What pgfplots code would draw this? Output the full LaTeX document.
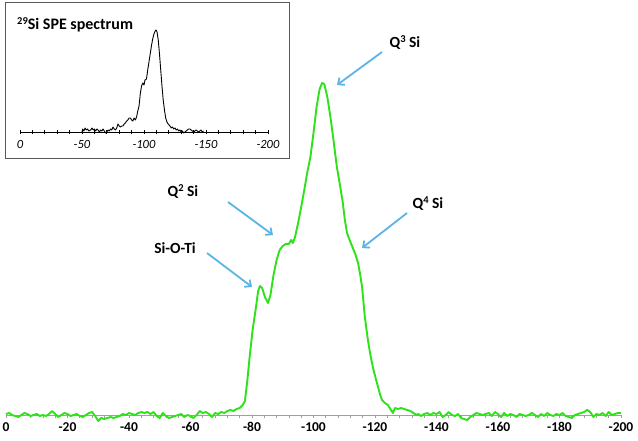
\documentclass[border=0pt]{standalone}
\usepackage{pgfplots}
\pgfplotsset{compat=1.18}
\usepackage{fontspec}
\setmainfont{Carlito}
\usetikzlibrary{arrows.meta}
\definecolor{specgreen}{RGB}{46,226,26}
\definecolor{arrowblue}{RGB}{90,180,230}
\definecolor{axgray}{RGB}{160,160,160}
\newcommand{\sups}[1]{\raisebox{0.32em}{\fontsize{10.5}{10.5}\selectfont #1}}
\begin{document}
\begin{tikzpicture}[x=1pt,y=1pt]
\path[use as bounding box] (0,0) rectangle (638,440);
% main spectrum
\begin{axis}[at={(6pt,10pt)}, anchor=south west, scale only axis,
  width=615pt, height=355pt,
  xmin=-200, xmax=0, x dir=reverse, ymin=-15, ymax=340,
  axis x line=middle, axis y line=none,
  x axis line style={-, axgray, line width=0.8pt},
  hide obscured x ticks=false,
  xtick={0,-20,-40,-60,-80,-100,-120,-140,-160,-180,-200},
  xticklabels={0,-20,-40,-60,-80,-100,-120,-140,-160,-180,-200},
  minor x tick num=4,
  tick align=outside, major tick length=3pt, minor tick length=3pt,
  every tick/.style={axgray, line width=0.6pt},
  xticklabel style={font=\bfseries\fontsize{13.5}{13.5}\selectfont, text=black, yshift=-1pt},
  clip=false]
\addplot[specgreen, line width=1.9pt, line join=round] coordinates {
(0,1)(-1,2)(-2,0)(-3,-1)(-4,-2)(-5,0)(-6,2)(-7,1)(-8,-1)(-9,0)(-10,1)
(-11,-1)(-12,0)(-13,-1)(-14,1)(-15,4)(-16,1)(-17,-2)(-18,0)(-19,2)(-20,1)
(-21,-1)(-22,0)(-23,1)(-24,-1)(-25,-2)(-26,0)(-27,2)(-28,3)(-29,-1)(-30,-6)
(-31,-3)(-32,-4)(-33,-3)(-34,-2)(-35,-3)(-36,-2)(-37,-1)(-38,1)(-39,0)(-40,2)
(-41,1)(-42,0)(-43,2)(-44,3)(-45,2)(-46,3)(-47,1)(-48,3)(-49,-1)(-50,-3)
(-51,2)(-52,-1)(-53,-3)(-54,-2)(-55,-1)(-56,0)(-57,1)(-58,-2)(-59,0)(-60,-1)
(-61,-3)(-62,0)(-63,4)(-64,2)(-65,3)(-66,1)(-67,-2)(-68,2)(-69,1)(-70,3)
(-71,2)(-72,4)(-73,5)(-74,4)(-75,6)(-76,7)(-77,10)(-77.7,14)(-78.5,35)(-79.3,60)
(-80.2,85)(-81.3,108)(-82,124)(-82.6,129)(-83.3,127)(-84.2,118)(-85.2,112)(-86,120)
(-87,140)(-88,155)(-89,165)(-90,169)(-91,171)(-92,171)(-92.7,175)(-93.3,172)
(-94,178)(-95,192)(-96,208)(-97,225)(-98,243)(-99,258)(-100,282)(-101,308)
(-102,326)(-102.8,332)(-103.5,331)(-104.5,318)(-105.5,298)(-106.5,275)(-107.6,248)
(-108.5,232)(-109.5,213)(-110.2,195)(-110.9,182)(-112,173)(-112.8,167)(-113.7,160)
(-114.5,152)(-115.2,140)(-115.8,128)(-116.7,98)(-117.7,75)(-118.5,60)(-119.3,48)
(-120.2,37)(-121,28)(-121.7,20)(-122.3,15)(-123.2,12)(-124.2,10)(-125,6)(-125.8,2)
(-126.5,7)(-127.5,6)(-128.5,7)(-129.5,6)(-130.5,5)(-131.5,4)(-132.5,2)(-133.5,0)
(-134,1)(-135,-1)(-136,1)(-137,2)(-138,0)(-139,2)(-140,1)
(-141,3)(-142,-2)(-143,0)(-144,3)(-145,0)(-146,-1)(-147,1)(-148,-3)(-149,-4)(-150,-5)
(-151,-2)(-152,0)(-153,2)(-154,1)(-155,0)(-156,1)(-157,2)(-158,-1)(-159,3)(-160,1)
(-161,-2)(-162,2)(-163,-1)(-164,1)(-165,0)(-166,-2)(-167,1)(-168,0)(-169,-1)(-170,0)
(-171,2)(-172,0)(-173,-2)(-174,1)(-175,-1)(-176,2)(-177,0)(-178,-1)(-179,1)(-180,0)
(-181,2)(-182,-1)(-183,-2)(-184,-3)(-185,0)(-186,1)(-187,2)(-188,3)(-189,5)(-190,3)
(-191,-2)(-192,1)(-193,0)(-194,2)(-195,-1)(-196,3)(-197,0)(-198,1)(-199,2)(-200,2)
};
\end{axis}
% inset box
\draw[gray!70!black, line width=1pt] (5,437) rectangle (289,281);
\begin{axis}[at={(20pt,303pt)}, anchor=south west, scale only axis,
  width=248pt, height=115pt,
  xmin=-200, xmax=0, x dir=reverse, ymin=-5, ymax=110,
  axis x line=middle, axis y line=none,
  x axis line style={-, black, line width=0.7pt},
  hide obscured x ticks=false,
  xtick={0,-50,-100,-150,-200},
  xticklabels={0,-50,-100,-150,-200},
  minor x tick num=4,
  tick align=center, major tick length=4pt, minor tick length=4pt,
  every tick/.style={black, line width=0.6pt},
  xticklabel style={font=\itshape\fontsize{12.5}{12.5}\selectfont, text=black, yshift=-3pt},
  clip=false]
\addplot[black, line width=0.9pt, line join=round] coordinates {
(-50,0)(-50.5,3)(-51.5,1)(-52.5,4)(-53.5,2)(-54.5,3)(-55.5,1)(-57,2)(-58,4)(-59,2)
(-60,3)(-61,1)(-62,3)(-63,2)(-64,0)(-65,2)(-66,1)(-67,3)(-68,1)(-69,-1)(-70,0)
(-71,2)(-72,1)(-73,3)(-74,2)(-75,5)(-76,3)(-77,2)(-78,4)(-79,8)(-80,6)(-81,5)
(-82,6)(-83,6)(-84,8)(-85,9)(-86,11)(-87,12)(-88,14)(-89,14)(-90,12)(-91,11)
(-92,14)(-93,12)(-94,15)(-95,21)(-96,26)(-97,38)(-98,46)(-99,49)(-100,47)
(-100.8,52)(-102,53)(-103,62)(-104,70)(-105,78)(-106,86)(-107,93)(-108,98)
(-109,101)(-109.7,102)(-110.5,100)(-111.5,92)(-112.5,78)(-113.5,62)(-114.5,46)
(-115.5,32)(-116.5,22)(-117.5,14)(-118.5,10)(-119.5,8)(-121,6)(-122,4)(-123,5)
(-124,3)(-125,4)(-126,2)(-127,3)(-128,1)(-129,2)(-130,0)(-131,1)(-132,-1)(-133,0)
(-134,1)(-135,2)(-136,3)(-137,3)(-138,2)(-139,1)(-140,0)(-141,1)(-142,2)(-143,1)
(-144,0)(-145,1)(-146,2)(-147,0)(-148,1)
};
\end{axis}
\node[anchor=west, font=\bfseries\fontsize{16}{16}\selectfont, inner sep=0pt] at (17,415) {\raisebox{0.3em}{\fontsize{10.5}{10.5}\selectfont 29}Si SPE spectrum};
% annotations
\begin{scope}[font=\bfseries\fontsize{15.5}{15.5}\selectfont]
\node at (405,397) {Q\sups{3} Si};
\node at (428,236) {Q\sups{4} Si};
\node at (183,248) {Q\sups{2} Si};
\node at (175,192) {Si-O-Ti};
\end{scope}
\begin{scope}[arrowblue, line width=1.8pt, -{Straight Barb[length=5pt,width=9pt]}]
\draw (382,388) -- (337,355);
\draw (407,227) -- (362,192);
\draw (228,238) -- (273,205);
\draw (207,187) -- (252,153);
\end{scope}
\end{tikzpicture}
\end{document}
